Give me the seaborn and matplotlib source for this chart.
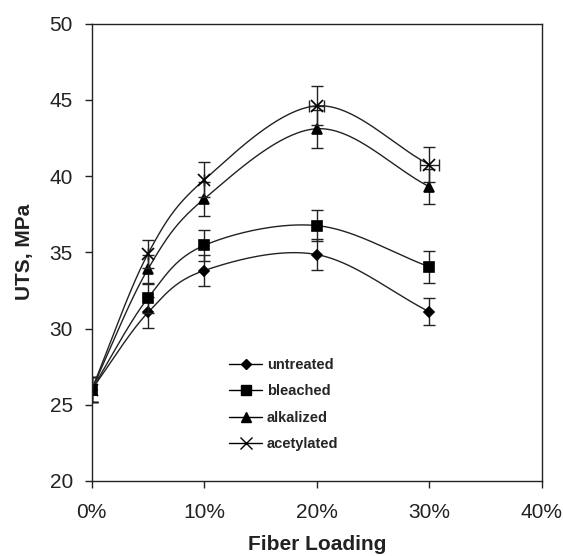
import numpy as np
import pandas as pd
import matplotlib
matplotlib.use("Agg")
import matplotlib.pyplot as plt
import seaborn as sns

loading = [0, 5, 10, 20, 30]

untreated = [26.0, 31.05, 33.8, 34.85, 31.1]
bleached = [26.0, 32.0, 35.45, 36.75, 34.05]
alkalized = [26.0, 33.9, 38.5, 43.1, 39.3]
acetylated = [26.0, 34.9, 39.75, 44.6, 40.75]

untreated_err = [0.85, 1.0, 1.0, 1.0, 0.9]
bleached_err = [0.85, 1.0, 1.0, 1.0, 1.05]
alkalized_err = [0.85, 0.95, 1.1, 1.25, 1.15]
acetylated_err = [0.85, 0.9, 1.15, 1.27, 1.15]
acetylated_xerr = [0, 0, 0, 0.65, 0.86]

series = {
    "untreated": (untreated, untreated_err, "D", 5.5),
    "bleached": (bleached, bleached_err, "s", 7),
    "alkalized": (alkalized, alkalized_err, "^", 7),
    "acetylated": (acetylated, acetylated_err, "x", 8),
}


def smooth(xs, ys, n=40):
    # Catmull-Rom curve through the points, like Excel's smoothed line
    xs = np.asarray(xs, float)
    ys = np.asarray(ys, float)
    px = np.concatenate([[2 * xs[0] - xs[1]], xs, [2 * xs[-1] - xs[-2]]])
    py = np.concatenate([[2 * ys[0] - ys[1]], ys, [2 * ys[-1] - ys[-2]]])
    out_x, out_y = [], []
    t = np.linspace(0, 1, n)
    for i in range(1, len(px) - 2):
        for arr, out in ((px, out_x), (py, out_y)):
            p0, p1, p2, p3 = arr[i - 1], arr[i], arr[i + 1], arr[i + 2]
            out.extend(0.5 * ((2 * p1) + (-p0 + p2) * t
                              + (2 * p0 - 5 * p1 + 4 * p2 - p3) * t ** 2
                              + (-p0 + 3 * p1 - 3 * p2 + p3) * t ** 3))
    return out_x, out_y


sns.set_style("ticks")
plt.rcParams["font.family"] = ["Liberation Sans", "DejaVu Sans"]

ink = "#222222"
fig = plt.figure(figsize=(5.63, 5.56), dpi=100)
ax = fig.add_axes([0.1629, 0.1349, 0.7993, 0.8228])

rows = []
for name, (vals, err, m, ms) in series.items():
    sx, sy = smooth(loading, vals)
    rows.append(pd.DataFrame({"x": sx, "y": sy, "series": name}))
curves = pd.concat(rows)

sns.lineplot(data=curves, x="x", y="y", units="series", estimator=None,
             color=ink, linewidth=1.0, sort=False, ax=ax, legend=False)

for name, (vals, err, m, ms) in series.items():
    xerr = acetylated_xerr if name == "acetylated" else None
    ax.errorbar(loading, vals, yerr=err, xerr=xerr, fmt="none",
                ecolor=ink, elinewidth=1.0, capsize=4, capthick=1.0)
    ax.plot(loading, vals, marker=m, markersize=ms, color="black",
            linewidth=0, markeredgewidth=1.2)
    ax.plot([], [], marker=m, markersize=ms, color="black", linewidth=1.0,
            label=name)

ax.set_xlim(0, 40)
ax.set_ylim(20, 50)
ax.set_xticks([0, 10, 20, 30, 40])
ax.set_xticklabels(["0%", "10%", "20%", "30%", "40%"])
ax.set_yticks([20, 25, 30, 35, 40, 45, 50])
ax.tick_params(direction="out", length=5, width=1, labelsize=15,
               colors=ink, labelcolor=ink)
ax.tick_params(axis="x", pad=11)
ax.tick_params(axis="y", pad=8.5)
for s in ax.spines.values():
    s.set_visible(True)
    s.set_linewidth(1.0)
    s.set_color(ink)

ax.set_xlabel("Fiber Loading", fontsize=15, fontweight="bold", labelpad=9,
              color=ink)
ax.set_ylabel("UTS, MPa", fontsize=15, fontweight="bold", labelpad=11,
              color=ink)

ax.legend(loc="upper left", bbox_to_anchor=(0.277, 0.2975), frameon=False,
          handlelength=2.2, handletextpad=0.35, labelspacing=0.85,
          prop={"weight": "bold", "size": 10.5})

fig.savefig("out.png", dpi=100)
